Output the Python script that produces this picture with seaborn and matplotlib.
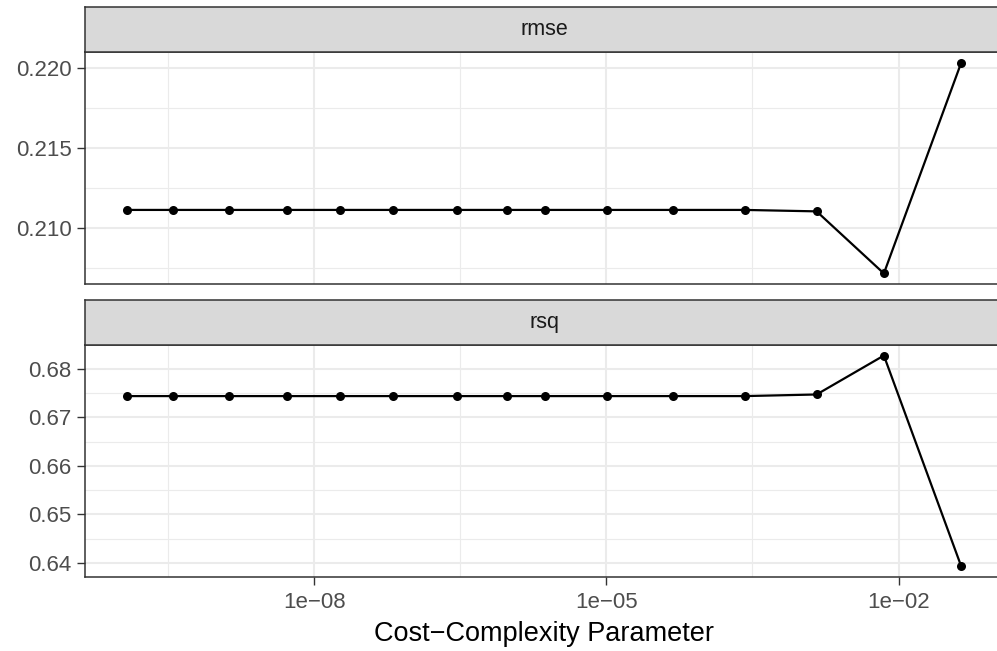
import numpy as np
import pandas as pd
import matplotlib
matplotlib.use('Agg')
import matplotlib.pyplot as plt
import seaborn as sns
from matplotlib.ticker import FixedLocator, FuncFormatter

# values
cost_complexity = [1.19e-10, 3.59e-10, 1.33e-09, 5.29e-09, 1.83e-08, 6.46e-08, 2.95e-07,
                   9.60e-07, 2.37e-06, 1.02e-05, 4.78e-05, 2.64e-04, 1.44e-03, 7.06e-03, 4.40e-02]
rmse_values = [0.21116, 0.21116, 0.21116, 0.21116, 0.21116, 0.21116, 0.21116, 0.21116,
               0.21116, 0.21116, 0.21116, 0.21116, 0.21107, 0.20719, 0.22037]
rsq_values = [0.67437, 0.67437, 0.67437, 0.67437, 0.67437, 0.67437, 0.67437, 0.67437,
              0.67437, 0.67437, 0.67437, 0.67437, 0.67470, 0.68273, 0.63924]
metrics = ['rmse', 'rsq']
x_breaks = [1e-08, 1e-05, 1e-02]
y_breaks = {'rmse': [0.210, 0.215, 0.220], 'rsq': [0.64, 0.65, 0.66, 0.67, 0.68]}
y_fmt = {'rmse': '{:.3f}', 'rsq': '{:.2f}'}

df = pd.DataFrame({
    'cost_complexity': cost_complexity * 2,
    'mean': rmse_values + rsq_values,
    '.metric': ['rmse'] * len(cost_complexity) + ['rsq'] * len(cost_complexity),
})

sns.set_theme(style='white')
plt.rcParams['font.family'] = ['Liberation Sans', 'DejaVu Sans']

W, H = 997, 651
fig = plt.figure(figsize=(W / 100, H / 100), dpi=100)

left, width = 85 / W, 918 / W
# (panel top, panel bottom, strip top) in pixels
layout = {'rmse': (52, 284, 7), 'rsq': (345, 577, 300)}

# log-x limits with 5% expansion like ggplot
lx = np.log10(cost_complexity)
pad = (lx.max() - lx.min()) * 0.05
xlim = (10 ** (lx.min() - pad), 10 ** (lx.max() + pad))
x_minor = [10 ** v for v in np.arange(-12.5, 1, 1.5) if not any(np.isclose(v, np.log10(x_breaks)))]

border = '#333333'
for metric in metrics:
    top, bottom, stop = layout[metric]
    ax = fig.add_axes([left, 1 - bottom / H, width, (bottom - top) / H])
    sub = df[df['.metric'] == metric]
    ax.set_xscale('log')
    sns.lineplot(data=sub, x='cost_complexity', y='mean', color='black', lw=1.6,
                 marker='o', markersize=6.5, markeredgewidth=0, ax=ax)

    ax.set_xlim(*xlim)
    yv = sub['mean'].values
    ypad = (yv.max() - yv.min()) * 0.05
    ax.set_ylim(yv.min() - ypad, yv.max() + ypad)

    yb = y_breaks[metric]
    step = yb[1] - yb[0]
    ax.yaxis.set_major_locator(FixedLocator(yb))
    ax.yaxis.set_minor_locator(FixedLocator([b + step / 2 for b in [yb[0] - step] + yb]))
    ax.yaxis.set_major_formatter(FuncFormatter(lambda v, p, f=y_fmt[metric]: f.format(v)))
    ax.xaxis.set_major_locator(FixedLocator(x_breaks))
    ax.xaxis.set_minor_locator(FixedLocator(x_minor))
    ax.xaxis.set_major_formatter(FuncFormatter(
        lambda v, p: '1e\u2212{:02d}'.format(abs(int(round(np.log10(v)))))))

    ax.set_axisbelow(True)
    ax.grid(which='major', color='#EBEBEB', lw=1.5)
    ax.grid(which='minor', color='#EBEBEB', lw=0.8)
    for s in ax.spines.values():
        s.set_color(border)
        s.set_linewidth(1.1)

    ax.tick_params(which='minor', length=0)
    ax.tick_params(axis='y', which='major', left=True, length=5.5, width=1, color=border,
                   labelsize=16, labelcolor='#4D4D4D', pad=4)
    if metric == 'rsq':
        ax.tick_params(axis='x', which='major', bottom=True, length=5.5, width=1, color=border,
                       labelsize=16, labelcolor='#4D4D4D', pad=5)
        ax.set_xlabel('Cost\u2212Complexity Parameter', fontsize=19.5, color='black', labelpad=6)
    else:
        ax.tick_params(axis='x', which='both', bottom=False, labelbottom=False)
        ax.set_xlabel('')
    ax.set_ylabel('')

    # facet strip
    sax = fig.add_axes([left, 1 - top / H, width, (top - stop) / H])
    sax.set_facecolor('#D9D9D9')
    sax.set_xticks([])
    sax.set_yticks([])
    for s in sax.spines.values():
        s.set_color(border)
        s.set_linewidth(1.1)
    sax.text(0.5, 0.5, metric, ha='center', va='center', fontsize=15.5, color='#1A1A1A',
             transform=sax.transAxes)

fig.savefig('out.png', dpi=100)
